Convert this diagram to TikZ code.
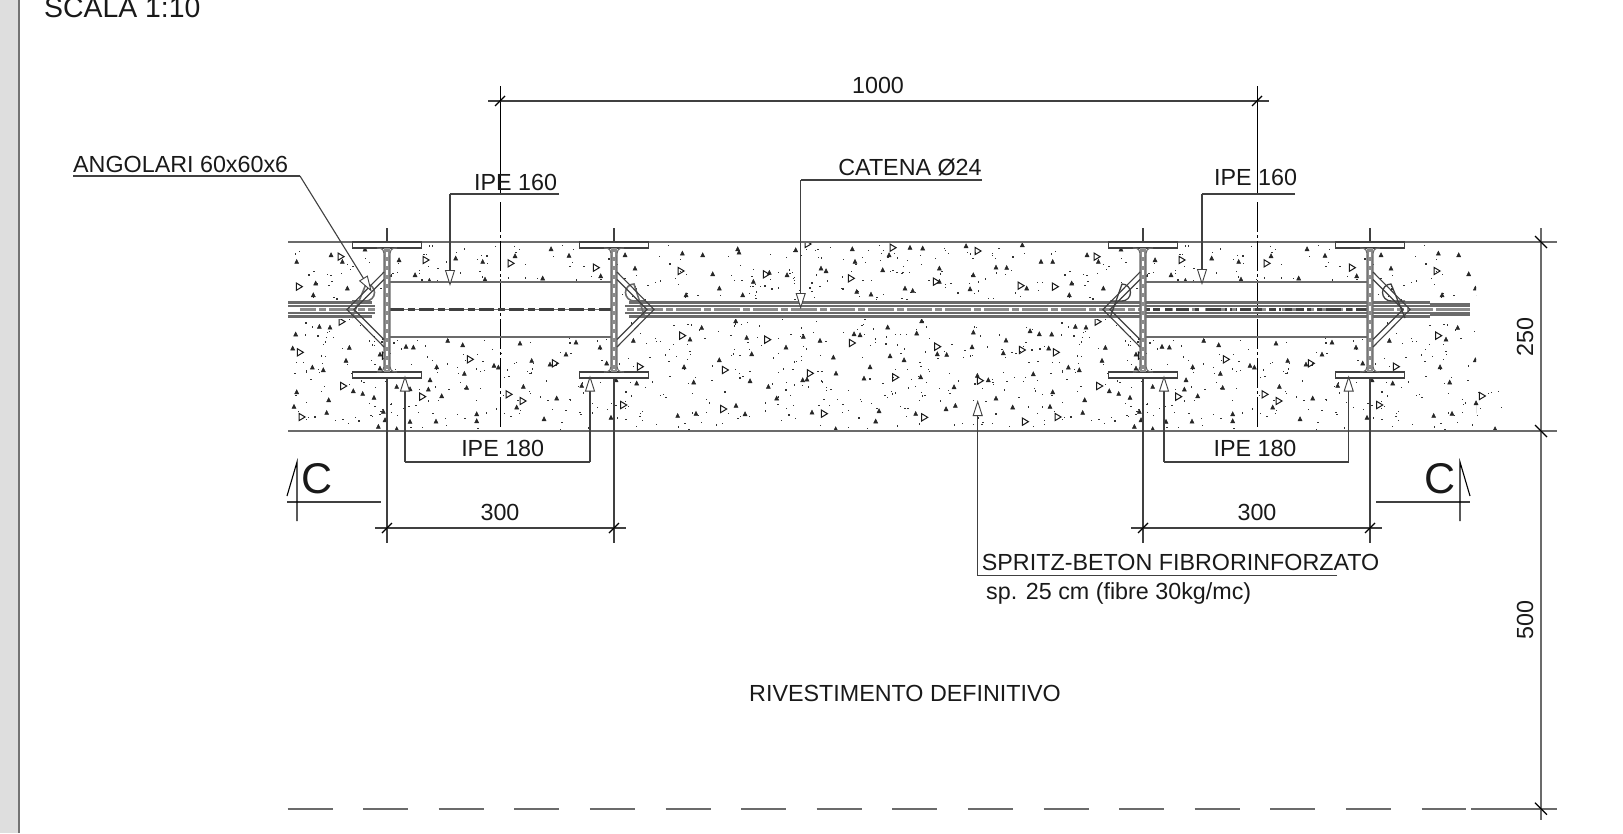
\documentclass[tikz,border=0pt]{standalone}
\usepackage{fontspec}
\setmainfont{Liberation Sans}
\usetikzlibrary{arrows.meta,calc}
\definecolor{ln}{gray}{0.25}
\definecolor{thk}{gray}{0.42}
\definecolor{webc}{gray}{0.55}
\tikzset{
  x=1pt,y=-1pt,
  thin line/.style={draw=ln,line width=1.1pt},
  surface/.style={draw=thk,line width=1.6pt},
  leader/.style={draw=ln,line width=1.1pt,-{Triangle[open,fill=white,length=16pt,width=10pt,line width=0.9pt]}},
  tick/.style={draw=black,line width=1.1pt},
  lbl/.style={font=\fontsize{23.3}{26}\selectfont,anchor=base,inner sep=0pt,text=black!90},
  bigc/.style={font=\fontsize{43}{46}\selectfont,anchor=base,inner sep=0pt,text=black!90},
  centreline/.style={draw=black,line width=1pt},
  concrete small/.style={fill=black!85,draw=black!85,line width=0.5pt},
  concrete big/.style={draw=black!90,line width=1pt},
}
\newcommand{\smtri}[2]{\filldraw[concrete small] ({#1-2},{#2+1.8}) -- ({#1+2},{#2+1.8}) -- (#1,{#2-2.2}) -- cycle;}
\newcommand{\bgtri}[2]{\draw[concrete big] ({#1-2.6},{#2-3.6}) -- ({#1+3.4},#2) -- ({#1-2.6},{#2+3.6}) -- cycle;}
\newcommand{\hatchtile}[1]{%
  \begin{scope}[xshift=#1pt]
    \pgfmathsetseed{90210}
    \foreach \i in {1,...,800}{%
      \pgfmathsetmacro\dx{288+rnd*756}%
      \pgfmathsetmacro\dy{245+rnd*184}%
      \fill[black!80] (\dx,\dy) rectangle ++(1.25,1.25);
    }
    % triangles read from the first stretch (x = 270 + X/3, y = 220 + Y/3)
    \foreach \X/\Y in {285/88,217/125,183/105,80/125,137/190,130/225,232/205,387/120,557/115,638/125,435/165,735/108,897/107,843/87,818/175,992/168,1065/105,1095/145,645/178,478/182,148/320,180/322,77/343,68/385,238/383,330/403,228/422,127/442,160/450,330/445,533/362,408/380,430/382,578/375,750/370,918/367,888/403,990/382,1090/362,500/441,583/461,672/437,685/442,785/422,840/433,1010/430,80/516,250/513,278/521,312/533,176/540,72/560,170/578,340/575,345/600,325/620,380/500,420/507,475/508,515/528,480/480,590/503,620/582,498/604,620/603,420/605,380/627,760/500,740/562,860/535,822/597,935/497,1038/480,1100/490,1023/593}
      {\smtri{270+\X/3}{220+\Y/3}}
    \foreach \X/\Y in {212/110,87/200,467/120,722/130,978/143,215/305,90/397,345/407,600/418,1110/440,855/430,220/498,95/591,457/530,716/523,758/543,1060/555}
      {\bgtri{270+\X/3}{220+\Y/3}}
    % triangles read from the second stretch (x = 660 + X/3, y = 225 + Y/3)
    \foreach \X/\Y in {67/85,128/90,233/72,237/82,158/147,280/170,178/190,78/210,248/210,328/143,381/150,407/75,577/72,750/68,788/70,687/90,585/110,483/130,498/138,668/135,590/200,633/208,735/190,758/197,838/130,838/170,940/150,918/63,1087/60,1008/127,1040/128,1143/110,1100/190,930/192,125/308,227/288,90/343,260/338,430/335,480/347,378/367,275/387,178/405,72/426,101/472,270/468,325/485,428/465,441/463,350/520,228/542,108/566,53/572,255/567,456/562,528/445,520/397,630/426,612/460,690/393,732/405,782/456,582/327,600/330,683/307,785/288,770/325,832/387,860/389,940/322,936/366,1038/346,1030/384,882/486,952/452,985/465,1008/520,858/552,886/542,1058/547,767/566,657/558,647/589,527/612,1120/447,1110/318,1138/327}
      {\smtri{660+\X/3}{225+\Y/3}}
    \foreach \X/\Y in {62/138,318/148,443/57,698/68,573/160,828/170,953/78,1082/182,67/332,322/344,195/435,450/445,190/552,492/566,706/457,576/354,832/365,1086/375,960/467,1095/590,793/577}
      {\bgtri{660+\X/3}{225+\Y/3}}
  \end{scope}}
\begin{document}
\begin{tikzpicture}
\useasboundingbox (0,0) rectangle (1623,833);
% sheet margin
\fill[black!13] (0,0) rectangle (18,833);
\draw[black!55,line width=1.6pt] (19,0) -- (19,833);
\node[lbl,font=\fontsize{28.4}{30}\selectfont,anchor=base west] (scala) at (44,17) {SCALA 1:10};

% concrete hatch (periodic)
\begin{scope}
  \clip (288,243) rectangle (1476,431);
  \hatchtile{0}
  \hatchtile{756}
\end{scope}
\bgtri{1482}{396}\smtri{1476}{403}\smtri{1495}{429}
\foreach \dx/\dy in {1478/392,1488/393,1491/392,1498/391,1501/407,1477/415,1463/404,1480/408}
  {\fill[black!80] (\dx,\dy) rectangle ++(1.25,1.25);}

% clear chain band and tunnels between the IPE 160
\fill[white] (288,300) rectangle (1472,319);
\fill[white] (387,282) rectangle (614,337);
\fill[white] (1143,282) rectangle (1370,337);

% surfaces
\coordinate (tl) at (288,242); \coordinate (tr) at (1557,242);
\coordinate (bl) at (288,431); \coordinate (br) at (1557,431);
\draw[surface] (tl) -- (tr);
\draw[surface] (bl) -- (br);
\draw[thin line,dash pattern=on 45pt off 30.6pt,draw=thk,line width=1.6pt] (287.5,808.7) -- (1466,808.7);
\draw[surface] (1471,808.7) -- (1557,808.7);

% centre lines
\foreach \c in {500,1257}{
  \draw[centreline] (\c,86) -- (\c,194);
  \draw[centreline,dash pattern=on 30pt off 3pt on 3pt off 3pt] (\c,202) -- (\c,427);
}

% chain
\foreach \a/\b in {288/372,629/1430}{
  \draw[draw=thk,line width=3pt] (\a,302.5) -- (\b,302.5);
  \draw[draw=thk,line width=3pt] (\a,316.5) -- (\b,316.5);
}
\draw[draw=thk,line width=1.3pt] (1430,304) -- (1470,304);
\draw[draw=thk,line width=1.3pt] (1430,315) -- (1470,315);
\foreach \a/\b in {288/375,625/1470}{
  \draw[draw=thk,line width=1.2pt] (\a,306) -- (\b,306);
  \draw[draw=thk,line width=1.2pt] (\a,313) -- (\b,313);
  \draw[draw=webc,line width=2.8pt] (\a,309.5) -- (\b,309.5);
}
\draw[white,line width=2.8pt,dash pattern=on 3pt off 7pt on 3pt off 25.5pt] (316,309.5) -- (1440,309.5);
\fill[white] (288,308) rectangle (300,311);
\fill[white] (376,300) rectangle (386,319);
\fill[white] (615,300) rectangle (625,319);
% chain ends
\draw[draw=thk,line width=1.6pt] (352,301) -- (366,301) arc[start angle=90,end angle=-90,radius=8.5] -- (352,318);
\draw[draw=thk,line width=1.6pt] (645,301) -- (634,301) arc[start angle=90,end angle=270,radius=8.5] -- (645,318);
\draw[draw=ln,line width=1.3pt] (1110,301) -- (1122,301) arc[start angle=90,end angle=-90,radius=8.5] -- (1110,318);
\draw[draw=ln,line width=1.3pt] (1405,301) -- (1391,301) arc[start angle=90,end angle=270,radius=8.5] -- (1405,318);

% IPE 160
\foreach \a/\b in {389/612,1145/1368}{
  \draw[thin line,draw=thk,line width=1.3pt] (\a,282) -- (\b,282);
  \draw[thin line,draw=thk,line width=1.3pt] (\a,337) -- (\b,337);
}
\draw[draw=thk,line width=1pt] (389,309.5) -- (612,309.5);
\draw[draw=ln,line width=3.2pt,dash pattern=on 15pt off 4pt on 7pt off 4pt] (389,309.5) -- (612,309.5);
\draw[draw=ln,line width=2.2pt,dash pattern=on 15pt off 4pt on 7pt off 4pt] (1146,309.5) -- (1368,309.5);
\draw[white,line width=2.6pt,dash pattern=on 3pt off 7pt on 3pt off 25.5pt] (1150,309.5) -- (1368,309.5);

% extension lines, IPE 180 sections and angles
\foreach \w/\s in {387/-1,614/1,1143/-1,1370/1}{
  \coordinate (ext top) at (\w,228);
  \coordinate (ext bot) at (\w,543);
  \draw[thin line] (ext top) -- (ext bot);
  \draw[fill=white,draw=ln,line width=1.1pt] ({\w-34.5},242) rectangle ({\w+34.5},248);
  \draw[fill=white,draw=ln,line width=1.1pt] ({\w-34.5},372) rectangle ({\w+34.5},378);
  \fill[webc] ({\w-2.6},248) rectangle ({\w+2.6},372);
  \draw[white,line width=1.7pt,dash pattern=on 5pt off 4pt] (\w,252) -- (\w,370);
  \draw[draw=thk,line width=1.1pt] ({\w-10},248) .. controls ({\w-4},248) and ({\w-3},250) .. ({\w-3},256) -- ({\w-3},364) .. controls ({\w-3},370) and ({\w-4},372) .. ({\w-10},372);
  \draw[draw=thk,line width=1.1pt] ({\w+10},248) .. controls ({\w+4},248) and ({\w+3},250) .. ({\w+3},256) -- ({\w+3},364) .. controls ({\w+3},370) and ({\w+4},372) .. ({\w+10},372);
  % angles
  \draw[draw=ln,line width=1.1pt] ({\w+\s*3},272) -- ({\w+\s*40},309.5) -- ({\w+\s*3},347);
  \draw[draw=ln,line width=1.1pt] ({\w+\s*3},279.5) -- ({\w+\s*33},309.5) -- ({\w+\s*3},339.5);
}

% dimensions
\coordinate (dL) at (500,101); \coordinate (dR) at (1257,101);
\draw[thin line] ($(dL)+(-12,0)$) -- ($(dR)+(12,0)$);
\draw[tick] ($(dL)+(-5,5)$) -- ($(dL)+(5,-5)$);
\draw[tick] ($(dR)+(-5,5)$) -- ($(dR)+(5,-5)$);
\node[lbl] (d1000) at (878,93.3) {1000};

\foreach \a/\b/\m in {387/614/500,1143/1370/1257}{
  \coordinate (p) at (\a,528); \coordinate (q) at (\b,528);
  \draw[thin line] ($(p)+(-12,0)$) -- ($(q)+(12,0)$);
  \draw[tick] ($(p)+(-5,5)$) -- ($(p)+(5,-5)$);
  \draw[tick] ($(q)+(-5,5)$) -- ($(q)+(5,-5)$);
  \node[lbl] at (\m,520.7) {300};
}

\coordinate (v1) at (1541,228); \coordinate (v2) at (1541,820);
\draw[thin line,draw=thk,line width=1.4pt] (v1) -- (v2);
\foreach \y in {242,431,808.7}{
  \draw[tick,line width=1.3pt] (1535,{\y-6}) -- (1547,{\y+6});
}
\node[lbl,rotate=90] (d250) at (1533,337) {250};
\node[lbl,rotate=90] (d500) at (1533,620) {500};

% leaders
\node[lbl,anchor=base west] (ang) at (73,172.5) {ANGOLARI 60x60x6};
\coordinate (ang0) at (73,176); \coordinate (ang1) at (300,176); \coordinate (ang2) at (371.7,291.7);
\draw[thin line] (ang0) -- (ang1);
\draw[leader] (ang1) -- (ang2);

\node[lbl,anchor=base west] (ipeL) at (474,190.7) {IPE 160};
\coordinate (a1) at (450,194); \coordinate (a1e) at (559,194); \coordinate (a1t) at (450,286);
\draw[thin line] (a1e) -- (a1);
\draw[leader] (a1) -- (a1t);

\node[lbl,anchor=base west] (ipeR) at (1214,185) {IPE 160};
\coordinate (a2) at (1202,194); \coordinate (a2e) at (1295,194); \coordinate (a2t) at (1202,285);
\draw[thin line] (a2e) -- (a2);
\draw[leader] (a2) -- (a2t);

\node[lbl] (cat) at (910,175.7) {CATENA Ø24};
\coordinate (a3) at (800.7,180); \coordinate (a3e) at (982,180); \coordinate (a3t) at (800.7,309);
\draw[thin line] (a3e) -- (a3);
\draw[leader] (a3) -- (a3t);

\foreach \l/\r/\m in {405/590/502.7,1164/1348.7/1255}{
  \coordinate (c1) at (\l,462); \coordinate (c2) at (\r,462);
  \coordinate (t1) at (\l,375.5); \coordinate (t2) at (\r,375.5);
  \draw[thin line] (c1) -- (c2);
  \draw[leader] (c1) -- (t1);
  \draw[leader] (c2) -- (t2);
  \node[lbl] at (\m,456.7) {IPE 180};
}

\node[lbl,anchor=base west] (spr) at (981.7,570.7) {SPRITZ-BETON FIBRORINFORZATO};
\node[lbl,anchor=base west] (sp2) at (986,599) {sp. 25 cm (fibre 30kg/mc)};
\coordinate (a4) at (977.7,575.7); \coordinate (a4e) at (1337,575.7); \coordinate (a4t) at (977.7,400);
\draw[thin line] (a4e) -- (a4);
\draw[leader] (a4) -- (a4t);

\node[lbl] (riv) at (905,701) {RIVESTIMENTO DEFINITIVO};

% section marks
\node[bigc] (cL) at (317,493) {C};
\node[bigc] (cR) at (1440,493) {C};
\coordinate (sl1) at (287,502); \coordinate (sl2) at (381,502);
\coordinate (sl3) at (297,462); \coordinate (sl4) at (297,521); \coordinate (sl5) at (287,496);
\draw[thin line] (sl1) -- (sl2);
\draw[draw=black,line width=1.1pt] (sl4) -- (sl3) -- (sl5);
\coordinate (sr1) at (1376,502); \coordinate (sr2) at (1470,502);
\coordinate (sr3) at (1460,462); \coordinate (sr4) at (1460,521); \coordinate (sr5) at (1470,496);
\draw[thin line] (sr1) -- (sr2);
\draw[draw=black,line width=1.1pt] (sr4) -- (sr3) -- (sr5);
\end{tikzpicture}
\end{document}
